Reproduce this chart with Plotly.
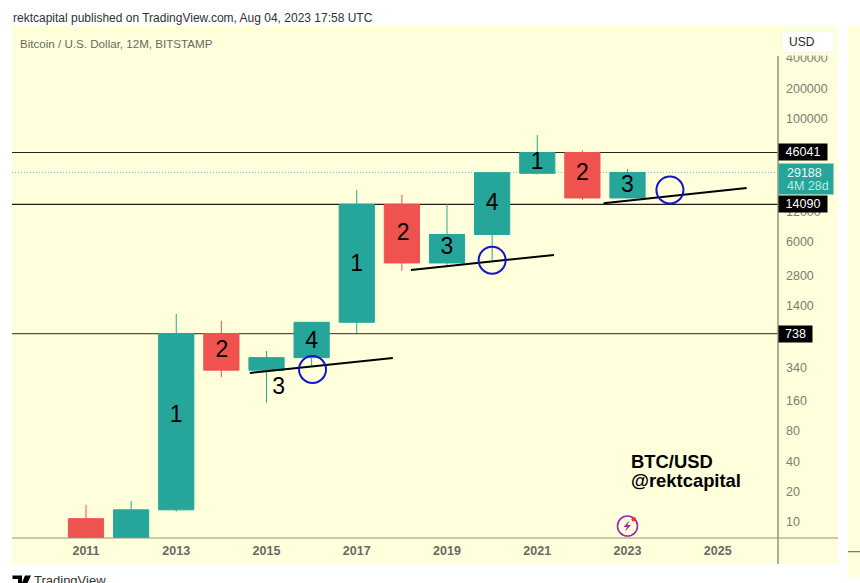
import plotly.graph_objects as go
import numpy as np

years = [2011, 2012, 2013, 2014, 2015, 2016, 2017, 2018, 2019, 2020, 2021, 2022, 2023]
opens = [10.8, 4.7, 13.2, 738, 320, 426, 955, 14090, 3698, 7085, 28600, 46041, 16300]
highs = [14.8, 16.2, 1155, 991, 496, 960, 19560, 17460, 14230, 29300, 68600, 48200, 31600]
lows = [2.0, 2.0, 12.7, 274, 152, 352, 747, 3082, 3530, 3960, 27860, 15560, 16300]
closes = [4.7, 13.2, 738, 320, 426, 955, 14090, 3698, 7085, 29040, 46041, 16300, 29188]

levels = [46041, 14090, 738]
level_colors = ['rgb(40,40,32)', 'rgb(30,30,25)', 'rgb(85,85,65)']
last_price = 29188

trend_x = [[2014.63, 2017.8], [2018.2, 2021.37], [2022.47, 2025.64]]
trend_y = [[300, 423], [3152, 4436], [14440, 20480]]

circle_x = [2016.02, 2020.0, 2023.94]
circle_y = [325, 3933, 19560]

count_x = [2013, 2014.01, 2015.27, 2016, 2017, 2018.03, 2019, 2020, 2021, 2022, 2023]
count_y = [111, 489, 213, 610, 3476, 7115, 5207, 14220, 36240, 28180, 21430]
count_text = ['1', '2', '3', '4', '1', '2', '3', '4', '1', '2', '3']

price_ticks = [400000, 200000, 100000, 12000, 6000, 2800, 1400, 340, 160, 80, 40, 20, 10]
year_ticks = [2011, 2013, 2015, 2017, 2019, 2021, 2023, 2025]

GREEN = 'rgb(38,166,154)'
RED = 'rgb(239,83,80)'
PANEL = 'rgb(255,255,219)'
AXIS = 'rgb(150,148,122)'
FONT = 'Liberation Sans'

# plot box in page pixels
L, R, T, B = 12, 778, 26, 538


def px(x):
    return (x - L) / (R - L)


def py(y):
    return (B - y) / (B - T)


fig = go.Figure()

fig.add_trace(go.Candlestick(
    x=years, open=opens, high=highs, low=lows, close=closes,
    increasing=dict(line=dict(color=GREEN, width=1), fillcolor=GREEN),
    decreasing=dict(line=dict(color=RED, width=1), fillcolor=RED),
    whiskerwidth=0, showlegend=False, hoverinfo='skip',
))

for tx, ty in zip(trend_x, trend_y):
    fig.add_trace(go.Scatter(x=tx, y=ty, mode='lines', showlegend=False,
                             line=dict(color='black', width=2)))

fig.add_trace(go.Scatter(
    x=circle_x, y=circle_y, mode='markers', showlegend=False,
    marker=dict(symbol='circle-open', size=27, color='rgb(20,20,205)',
                line=dict(color='rgb(20,20,205)', width=2)),
))

fig.add_trace(go.Scatter(
    x=count_x, y=count_y, text=count_text, mode='text', showlegend=False,
    textposition='middle center',
    textfont=dict(family=FONT, size=23, color='black'),
))

shapes = []
# panel backgrounds
shapes.append(dict(type='rect', xref='paper', yref='paper', layer='below',
                   x0=px(12), x1=px(838), y0=py(26), y1=py(564),
                   fillcolor=PANEL, line_width=0))
shapes.append(dict(type='rect', xref='paper', yref='paper', layer='below',
                   x0=px(848), x1=px(860), y0=py(26), y1=py(578),
                   fillcolor=PANEL, line_width=0))
shapes.append(dict(type='line', xref='paper', yref='paper', layer='below',
                   x0=px(848), x1=px(860), y0=py(551.7), y1=py(551.7),
                   line=dict(color='rgb(90,90,80)', width=1)))
for lev, col in zip(levels, level_colors):
    shapes.append(dict(type='line', xref='paper', yref='y', layer='below',
                       x0=0, x1=1, y0=lev, y1=lev,
                       line=dict(color=col, width=1.2)))
shapes.append(dict(type='line', xref='paper', yref='y', layer='below',
                   x0=0, x1=1, y0=last_price, y1=last_price,
                   line=dict(color='rgb(110,195,175)', width=1, dash='1px,2px')))
# axis rules
shapes.append(dict(type='line', xref='paper', yref='paper',
                   x0=px(12), x1=px(838), y0=py(538), y1=py(538),
                   line=dict(color=AXIS, width=1.2)))
shapes.append(dict(type='line', xref='paper', yref='paper',
                   x0=px(778), x1=px(778), y0=py(56), y1=py(564),
                   line=dict(color=AXIS, width=1.5)))
# strip hiding the top of the first tick label, then the USD button
shapes.append(dict(type='rect', xref='paper', yref='paper',
                   x0=px(779), x1=px(838), y0=py(26), y1=py(55.5),
                   fillcolor=PANEL, line_width=0))
shapes.append(dict(type='rect', xref='paper', yref='paper',
                   x0=px(782), x1=px(834), y0=py(31), y1=py(52),
                   fillcolor='white', line=dict(color='rgb(245,245,235)', width=1)))
# small bolt icon
shapes.append(dict(type='circle', xref='paper', yref='paper',
                   x0=px(617.5), x1=px(637.5), y0=py(516), y1=py(536),
                   line=dict(color='rgb(156,39,176)', width=1.6)))
shapes.append(dict(type='circle', xref='paper', yref='paper',
                   x0=px(631.5), x1=px(636), y0=py(517), y1=py(521.5),
                   fillcolor='rgb(240,50,60)', line_width=0))
bolt = [(629.5, 520.5), (623.5, 527), (627, 527), (625, 531.5), (631, 525), (627.5, 525)]
path = 'M ' + ' L '.join(f'{px(a):.5f},{py(b):.5f}' for a, b in bolt) + ' Z'
shapes.append(dict(type='path', xref='paper', yref='paper', path=path,
                   fillcolor='rgb(156,39,176)', line_width=0))
# TradingView logo
logo = [(12.5, 575.5), (22, 575.5), (22, 584), (18, 584), (18, 579), (12.5, 579)]
path = 'M ' + ' L '.join(f'{px(a):.5f},{py(b):.5f}' for a, b in logo) + ' Z'
shapes.append(dict(type='path', xref='paper', yref='paper', path=path,
                   fillcolor='black', line_width=0))
logo2 = [(25, 575.5), (31, 575.5), (27, 584), (21.5, 584)]
path = 'M ' + ' L '.join(f'{px(a):.5f},{py(b):.5f}' for a, b in logo2) + ' Z'
shapes.append(dict(type='path', xref='paper', yref='paper', path=path,
                   fillcolor='black', line_width=0))


def label(x, y, text, size, color, anchor='left', **kw):
    return dict(xref='paper', yref='paper', x=px(x), y=py(y), text=text,
                showarrow=False, xanchor=anchor, yanchor='middle',
                font=dict(family=FONT, size=size, color=color), **kw)


def tag(value, text, width, height, color, shift=0):
    # annotation y on a log axis is given in log10
    return dict(xref='paper', yref='y', x=1, y=np.log10(value), text=text,
                showarrow=False, xanchor='left', yanchor='middle', align='center',
                width=width, height=height, bgcolor=color, borderpad=0, yshift=shift,
                font=dict(family=FONT, size=12.5, color='white'))


annotations = [
    label(10.5, 17.5, 'rektcapital published on TradingView.com, Aug 04, 2023 17:58 UTC', 12, 'rgb(50,50,50)'),
    label(17.5, 43, 'Bitcoin / U.S. Dollar, 12M, BITSTAMP', 11.6, 'rgb(105,105,95)'),
    label(801.5, 41.5, 'USD', 12, 'rgb(40,40,40)', anchor='center'),
    label(628.5, 461, '<b>BTC/USD</b>', 18.4, 'black'),
    label(628.5, 480, '<b>@rektcapital</b>', 18.4, 'black'),
    label(31.5, 580, 'TradingView', 13, 'rgb(50,50,50)'),
    tag(levels[0], '46041', 48, 16, 'black'),
    tag(levels[1], '14090', 48, 16, 'black'),
    tag(levels[2], '738', 33, 16, 'black'),
    tag(last_price, ' ', 54, 30, GREEN, shift=-6.5),
    label(784.5, 172.5, '29188', 12.5, 'rgb(235,250,248)'),
    label(784.5, 185.5, '4M 28d', 12.5, 'rgb(190,232,228)'),
]

fig.update_layout(
    width=860, height=583,
    margin=dict(l=L, r=860 - R, t=T, b=583 - B, autoexpand=False),
    paper_bgcolor='white',
    plot_bgcolor='rgba(0,0,0,0)',
    showlegend=False,
    boxgap=0.22, boxgroupgap=0,
    shapes=shapes,
    annotations=annotations,
    xaxis=dict(
        range=[2009.36, 2026.335], rangeslider=dict(visible=False),
        tickvals=year_ticks, tickformat='d', showgrid=False, zeroline=False,
        showline=False, ticks='', ticklabelstandoff=3,
        tickfont=dict(family=FONT, size=12.5, color='rgb(105,105,98)', weight='bold'),
    ),
    yaxis=dict(
        type='log', side='right', range=[0.8414, 5.917],
        tickvals=price_ticks, tickformat='d', showgrid=False, zeroline=False,
        showline=False, ticks='', ticklabelstandoff=7,
        tickfont=dict(family=FONT, size=12.5, color='rgb(125,125,110)'),
    ),
)

# browser default body margin would push the figure off the page
fig.write_html("out.html", config={'displayModeBar': False},
               post_script="document.body.style.margin='0';document.body.style.overflow='hidden';")
